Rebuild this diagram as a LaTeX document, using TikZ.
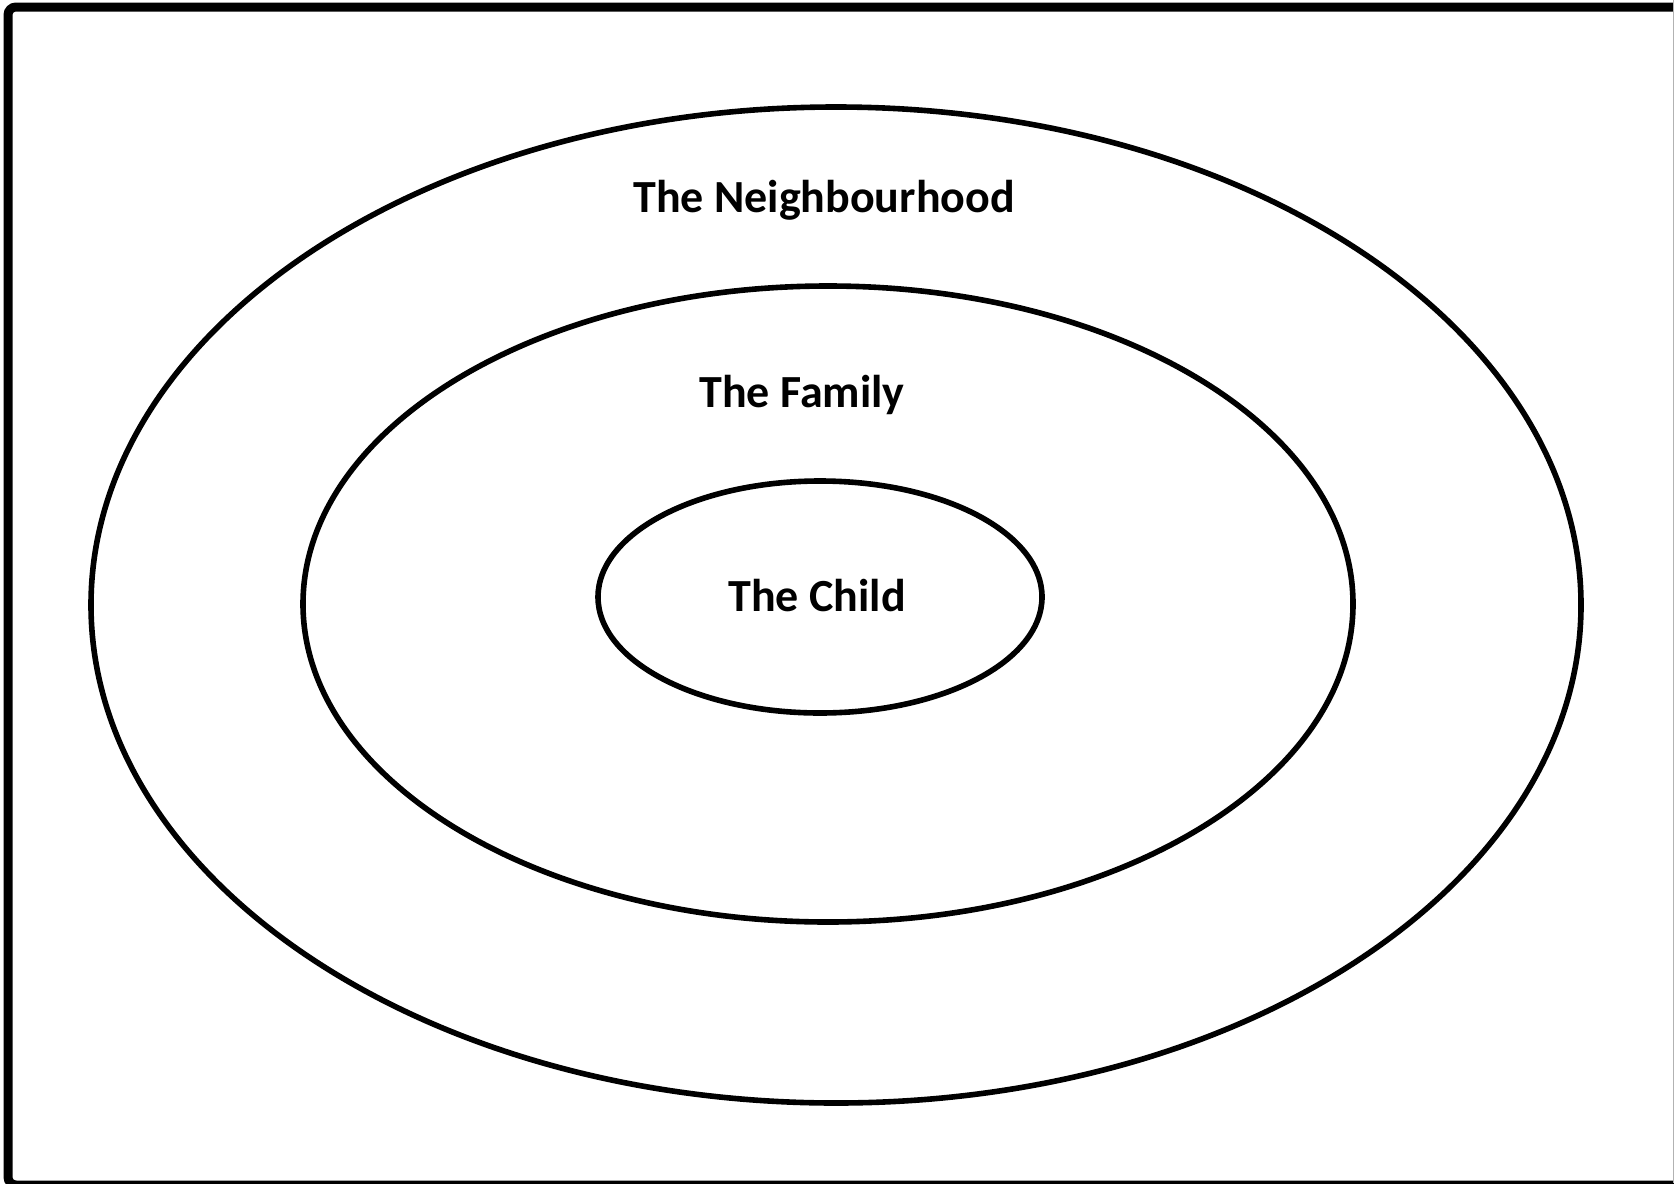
\documentclass[tikz,border=0pt]{standalone}
\usepackage{fontspec}
\setmainfont{Carlito}
\begin{document}
\begin{tikzpicture}[x=0.5pt,y=-0.5pt,
  ring/.style={draw=black,line width=2.8pt},
  label/.style={anchor=base,inner sep=0pt,font=\fontsize{23}{27}\selectfont\bfseries}]
\useasboundingbox (0,0) rectangle (1674,1183);
\clip (0,0) rectangle (1674,1183);
\fill[white] (0,0) rectangle (1674,1183);
% frame
\draw[line width=4.5pt,rounded corners=4pt] (8,7) rectangle (1700,1185);
\draw[gray!60,line width=0.5pt] (1673,0) -- (1673,1183);
% rings
\draw[ring] (836,605) ellipse [x radius=372.5pt, y radius=249pt];
\draw[ring] (828,604) ellipse [x radius=262.5pt, y radius=159pt];
\draw[ring] (820,597) ellipse [x radius=111pt, y radius=58pt];
% labels
\node[label] (nb) at (824,212) {The Neighbourhood};
\node[label] (fam) at (802,407) {The Family};
\node[label] (child) at (817,611) {The Child};
\end{tikzpicture}
\end{document}
